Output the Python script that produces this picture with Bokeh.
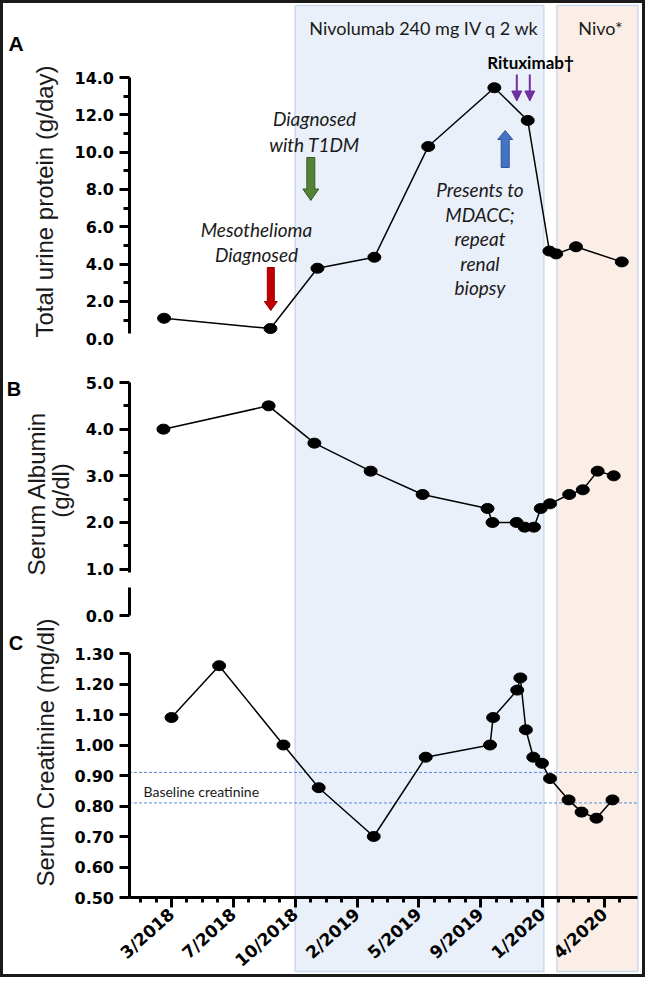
import math
from bokeh.plotting import figure
from bokeh.models import (Range1d, LinearAxis, FixedTicker, NumeralTickFormatter,
                          Arrow, NormalHead)
from bokeh.core.properties import value
from bokeh.embed import file_html
from bokeh.resources import INLINE

# ---------------- data ----------------
# timeline position: one unit per labelled tick (0 = "3/2018", 7 = "4/2020")
tick_labels = ["3/2018", "7/2018", "10/2018", "2/2019", "5/2019", "9/2019", "1/2020", "4/2020"]

protein_t = [-0.12, 1.60, 2.36, 3.28, 4.15, 5.22, 5.76, 6.11, 6.22, 6.54, 7.28]
protein_g_day = [1.10, 0.55, 3.78, 4.37, 10.3, 13.45, 11.7, 4.70, 4.55, 4.93, 4.12]

albumin_t = [-0.13, 1.57, 2.31, 3.22, 4.06, 5.11, 5.19, 5.58, 5.71, 5.86, 5.97, 6.12,
             6.43, 6.65, 6.89, 7.15]
albumin_g_dl = [4.0, 4.5, 3.7, 3.1, 2.6, 2.3, 2.0, 2.0, 1.9, 1.9, 2.3, 2.4, 2.6, 2.7, 3.1, 3.0]

creat_t = [0.0, 0.77, 1.81, 2.38, 3.27, 4.11, 5.15, 5.20, 5.59, 5.64, 5.73, 5.85, 5.99,
           6.12, 6.42, 6.63, 6.87, 7.13]
creat_mg_dl = [1.09, 1.26, 1.00, 0.86, 0.70, 0.96, 1.00, 1.09, 1.18, 1.22, 1.05, 0.96, 0.94,
               0.89, 0.82, 0.78, 0.76, 0.82]

baseline_creat = [0.91, 0.81]

treatment_start = [2.0, 6.23]
treatment_end = [6.02, 7.54]
treatment_fill = ["#EAF0F9", "#FBEEE6"]

# ---------------- layout helpers ----------------
W, H = 645, 977           # canvas, placed at page (8, 8)
PX0, PXU = 179.0, 61.85   # page x of timeline 0, page px per timeline unit


def tx(px):
    return (px - PX0) / PXU


def panel_range(v0, y0, v1, y1):
    k = (y1 - y0) / (v1 - v0)
    return Range1d(v0 + (8 + H - y0) / k, v0 + (8 - y0) / k)


p = figure(width=W, height=H, output_backend="svg", toolbar_location=None,
           x_range=Range1d(tx(8), tx(8 + W)), y_range=Range1d(8 + H, 8),
           x_axis_type=None, y_axis_type=None, min_border=0)
p.outline_line_color = "#1a1a1a"
p.outline_line_width = 5
p.background_fill_color = "white"

p.extra_y_ranges = {
    "A": panel_range(0, 346.3, 14, 85),
    "B": panel_range(0, 623.3, 5, 390),
    "C": panel_range(0.5, 905, 1.3, 661),
}

# treatment shading
p.quad(left=treatment_start, right=treatment_end, top=13, bottom=979,
       fill_color=treatment_fill, line_color="#CCD9EF", line_width=1.5)

# ---------------- axes ----------------
AX_X = 136.5
TICK_FONT = "DejaVu Sans"


def style_axis(ax, size="16px"):
    ax.axis_line_width = 3
    ax.axis_line_color = "black"
    ax.major_tick_line_width = 3
    ax.minor_tick_line_width = 3
    ax.major_tick_in = 0
    ax.minor_tick_in = 0
    ax.major_label_text_font = TICK_FONT
    ax.major_label_text_font_style = "bold"
    ax.major_label_text_font_size = size
    ax.major_label_text_color = "black"


def add_yaxis(name, bounds, ticks, minor, fmt, minor_out, tick_out=10, line=True):
    ax = LinearAxis(y_range_name=name, fixed_location=tx(AX_X), bounds=bounds,
                    ticker=FixedTicker(ticks=ticks, minor_ticks=minor),
                    formatter=NumeralTickFormatter(format=fmt))
    style_axis(ax)
    ax.major_tick_out = tick_out
    ax.minor_tick_out = minor_out
    ax.major_label_standoff = 15 - tick_out
    if not line:
        ax.axis_line_color = None
    p.add_layout(ax, "left")


# panel A: broken axis, "0.0" label below the axis end
add_yaxis("A", (0.28, 14), [2, 4, 6, 8, 10, 12, 14], [1, 3, 5, 7, 9, 11, 13], "0.0", 6)
add_yaxis("A", (0, 0), [0], [], "0.0", 0, tick_out=0, line=False)
# panel B: broken axis between 1.0 and 0.0
add_yaxis("B", (0.93, 5), [1, 2, 3, 4, 5], [1.5, 2.5, 3.5, 4.5], "0.0", 6)
add_yaxis("B", (0, 0.6), [0], [], "0.0", 0)
# panel C
add_yaxis("C", (0.5, 1.3), [0.5, 0.6, 0.7, 0.8, 0.9, 1.0, 1.1, 1.2, 1.3], [], "0.00", 0)

xax = LinearAxis(fixed_location=905, bounds=(tx(AX_X), tx(645)),
                 ticker=FixedTicker(ticks=list(range(len(tick_labels))),
                                    minor_ticks=[-0.5 + 0.25 * k for k in range(32)]),
                 major_label_overrides={i: s for i, s in enumerate(tick_labels)})
style_axis(xax, "17px")
xax.major_tick_out = 10
xax.minor_tick_out = 5
xax.major_label_orientation = math.radians(42)
xax.major_label_standoff = 4
p.add_layout(xax, "below")

# ---------------- baseline creatinine ----------------
p.segment(x0=tx(AX_X), x1=tx(645), y0=baseline_creat, y1=baseline_creat, y_range_name="C",
          line_color="#5B8BD9", line_width=1, line_dash="3 2")

# ---------------- series ----------------
for xs, ys, rn in [(protein_t, protein_g_day, "A"), (albumin_t, albumin_g_dl, "B"),
                   (creat_t, creat_mg_dl, "C")]:
    p.line(xs, ys, y_range_name=rn, line_color="black", line_width=1.5)
    p.ellipse(xs, ys, width=13, height=10, width_units="screen", height_units="screen",
              y_range_name=rn, fill_color="black", line_color="black")

# ---------------- texts ----------------
def txt(px, py, s, font="Lato", size=18, style="normal", align="center", angle=0,
        color="#1a1a1a", baseline="middle"):
    p.text(x=[tx(px)], y=[py], text=[s], text_font=value(font), text_font_size=f"{size}px",
           text_font_style=style, text_align=align, text_baseline=baseline, angle=angle,
           text_color=color)


txt(23.5, 51, "A", font="Liberation Sans", size=21, style="bold", color="black")
txt(21.5, 396, "B", font="Liberation Sans", size=20, style="bold", color="black")
txt(23.5, 650, "C", font="Liberation Sans", size=20, style="bold", color="black")

txt(52, 209, "Total urine protein (g/day)", font="Liberation Sans", size=24, angle=math.pi / 2)
txt(44, 501, "Serum Albumin", font="Liberation Sans", size=24, angle=math.pi / 2)
txt(68, 498, "(g/dl)", font="Liberation Sans", size=24, angle=math.pi / 2)
txt(53, 760, "Serum Creatinine (mg/dl)", font="Liberation Sans", size=24, angle=math.pi / 2)

txt(431.5, 35, "Nivolumab 240 mg IV q 2 wk", size=18)
txt(608, 35, "Nivo*", size=18)
txt(538, 70, "Rituximab\u2020", size=17, style="bold", color="black")

for i, s in enumerate(["Diagnosed", "with T1DM"]):
    txt(322, 126 + 25.5 * i, s, size=19, style="italic")
for i, s in enumerate(["Mesothelioma", "Diagnosed"]):
    txt(264, 237 + 25 * i, s, size=19, style="italic")
for i, s in enumerate(["Presents to", "MDACC;", "repeat", "renal", "biopsy"]):
    txt(487.5, 197 + 24.6 * i, s, size=19, style="italic")

txt(151, 799, "Baseline creatinine", size=14, align="left")


# ---------------- arrows ----------------
def block_arrow(xc, y_tail, y_tip, shaft_w, head_w, head_len, fill, line):
    d = 1 if y_tip > y_tail else -1
    yb = y_tip - d * head_len
    xs = [xc - shaft_w / 2, xc + shaft_w / 2, xc + shaft_w / 2, xc + head_w / 2, xc,
          xc - head_w / 2, xc - shaft_w / 2]
    ys = [y_tail, y_tail, yb, yb, y_tip, yb, yb]
    p.patch([tx(v) for v in xs], ys, fill_color=fill, line_color=line, line_width=1)


block_arrow(318.3, 165, 208, 8, 16, 11.5, "#548235", "#3A5F24")
block_arrow(278.3, 275, 318, 7, 13, 9, "#C00000", "#9A0000")
block_arrow(512.7, 175, 138, 8, 15, 9, "#4472C4", "#2F5597")

for xa in [524.3, 537.3]:
    p.add_layout(Arrow(x_start=tx(xa), y_start=82, x_end=tx(xa), y_end=108.5,
                       line_color="#7030A0", line_width=2,
                       end=NormalHead(size=10, fill_color="#7030A0", line_color="#7030A0")))

open("out.html", "w").write(file_html(p, INLINE))
